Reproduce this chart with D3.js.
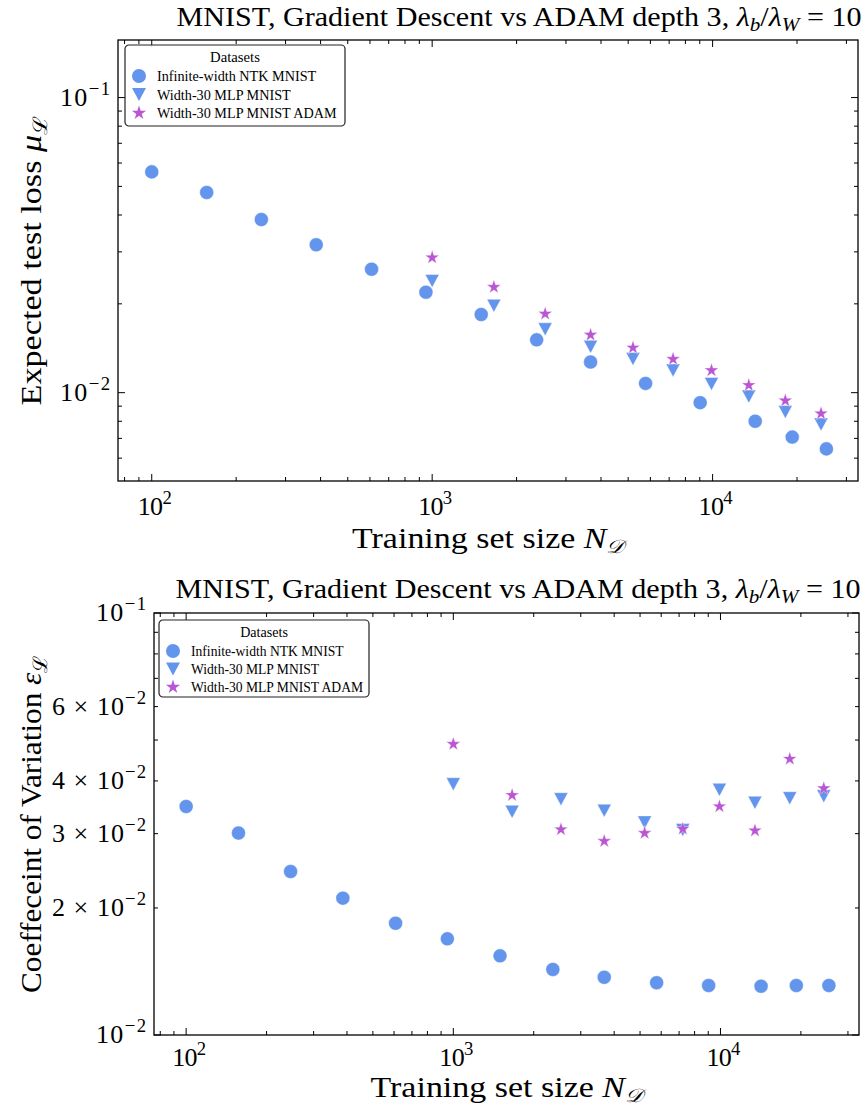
<!DOCTYPE html>
<html>
<head>
<meta charset="utf-8">
<script src="https://cdn.jsdelivr.net/npm/d3@7"></script>
<style>
  body { margin: 0; background: #fff; }
  text { font-family: "Liberation Serif", "DejaVu Serif", serif; fill: #000; }
</style>
</head>
<body>
<svg id="chart" width="867" height="1110"></svg>
<script>
// training set sizes
const nNtk = [100, 157, 246, 386, 608, 950, 1496, 2358, 3672, 5768, 9030, 14190, 19230, 25460];
const nMlp = [1000, 1660, 2529, 3672, 5201, 7228, 9910, 13460, 18170, 24360];

// expected test loss (top panel)
const muNtk = [0.0560, 0.0477, 0.0386, 0.0317, 0.0262, 0.0219, 0.0184, 0.0151, 0.0127, 0.01075, 0.00925, 0.0080, 0.00707, 0.00645];
const muMlp = [0.0239, 0.0197, 0.0164, 0.0143, 0.0130, 0.0119, 0.0107, 0.0097, 0.0086, 0.0078];
const muAdam = [0.0287, 0.0228, 0.0185, 0.0157, 0.0142, 0.0130, 0.0119, 0.0106, 0.0094, 0.0085];

// coefficient of variation (bottom panel)
const cvNtk = [0.0348, 0.0301, 0.0244, 0.0211, 0.0184, 0.0169, 0.0154, 0.0143, 0.0137, 0.0133, 0.0131, 0.01305, 0.0131, 0.0131];
const cvMlp = [0.0393, 0.0338, 0.0362, 0.0340, 0.0319, 0.0306, 0.0381, 0.0355, 0.0364, 0.0368];
const cvAdam = [0.0489, 0.0370, 0.0307, 0.0288, 0.0301, 0.0308, 0.0348, 0.0305, 0.0451, 0.0384];

const seriesNames = ["Infinite-width NTK MNIST", "Width-30 MLP MNIST", "Width-30 MLP MNIST ADAM"];
const xTickLabels = [[10, 2], [10, 3], [10, 4]];
const yTicksTop = [[null, 0.1, -1], [null, 0.01, -2]];
const yTicksBottom = [[null, 0.1, -1], [6, 0.06, -2], [4, 0.04, -2], [3, 0.03, -2], [2, 0.02, -2], [null, 0.01, -2]];

const blue = "#6495ED", purple = "#BA55D3";
const svg = d3.select("#chart");

const tri = (w, h) => `M0,${h / 2}L${-w / 2},${-h / 2}L${w / 2},${-h / 2}Z`;
const circ = d3.symbol(d3.symbolCircle, 154)();
const star = d3.symbol(d3.symbolStar, 62)();
const shapes = [circ, tri(14, 13), star];
const colors = [blue, blue, purple];

// writes "m × 10^e" style labels
function powLabel(g, x, y, mant, exp, anchor, fs, len) {
  const t = g.append("text").attr("x", x).attr("y", y)
    .attr("text-anchor", anchor).style("font-size", fs + "px");
  if (len) t.attr("textLength", len).attr("lengthAdjust", "spacing");
  t.append("tspan").text((mant ? mant + " × " : "") + "10");
  t.append("tspan").attr("dy", -fs * 0.42).style("font-size", (fs * 0.72) + "px")
    .text(exp < 0 ? "−" + (-exp) : exp);
  return t;
}

function minors(lo, hi) {
  const out = [];
  for (let e = Math.floor(Math.log10(lo)); e <= Math.ceil(Math.log10(hi)); e++) {
    for (let m = 1; m < 10; m++) {
      const v = m * Math.pow(10, e);
      if (v >= lo && v <= hi) out.push({ v, major: m === 1 });
    }
  }
  return out;
}

function panel(p) {
  const x = d3.scaleLog().domain([75.8, 33000]).range([p.left, p.right]);
  const y = d3.scaleLog().domain(p.ydom).range([p.bottom, p.top]);
  const g = svg.append("g");

  // ticks, inward on all four sides
  const tk = g.append("g").attr("stroke", "#000").attr("stroke-width", 1);
  minors(...x.domain()).forEach(d => {
    const L = d.major ? 7 : 4, xx = x(d.v);
    tk.append("line").attr("x1", xx).attr("x2", xx).attr("y1", p.bottom).attr("y2", p.bottom - L);
    tk.append("line").attr("x1", xx).attr("x2", xx).attr("y1", p.top).attr("y2", p.top + L);
  });
  minors(...p.ydom).forEach(d => {
    const L = d.major ? 7 : 4, yy = y(d.v);
    tk.append("line").attr("y1", yy).attr("y2", yy).attr("x1", p.left).attr("x2", p.left + L);
    tk.append("line").attr("y1", yy).attr("y2", yy).attr("x1", p.right).attr("x2", p.right - L);
  });

  g.append("rect").attr("x", p.left).attr("y", p.top)
    .attr("width", p.right - p.left).attr("height", p.bottom - p.top)
    .attr("fill", "none").attr("stroke", "#000").attr("stroke-width", 1.3);

  xTickLabels.forEach(([b, e]) => powLabel(g, x(Math.pow(b, e)) + 3, p.bottom + p.xtOff, null, e, "middle", 26, 34));
  p.yticks.forEach(([m, v, e]) => powLabel(g, p.left - 8, y(v) + 8, m, e, "end", 26, m ? 94 : 50));

  // series
  const sets = [[nNtk, p.vals[0]], [nMlp, p.vals[1]], [nMlp, p.vals[2]]];
  sets.forEach(([xs, ys], k) => {
    g.append("g").selectAll("path").data(xs.map((n, i) => [n, ys[i]])).join("path")
      .attr("d", shapes[k]).attr("fill", colors[k])
      .attr("stroke", "#fff").attr("stroke-width", 0.4)
      .attr("transform", d => `translate(${x(d[0])},${y(d[1])})`);
  });

  // title
  const t = g.append("text").attr("x", p.titleX).attr("y", p.titleY)
    .attr("text-anchor", "middle").style("font-size", "27px")
    .attr("textLength", 685).attr("lengthAdjust", "spacingAndGlyphs");
  t.append("tspan").text("MNIST, Gradient Descent vs ADAM depth 3, ");
  t.append("tspan").style("font-style", "italic").text("λ");
  t.append("tspan").attr("dy", 5).style("font-size", "19px").style("font-style", "italic").text("b");
  t.append("tspan").attr("dy", -5).text("/");
  t.append("tspan").style("font-style", "italic").text("λ");
  t.append("tspan").attr("dy", 5).style("font-size", "19px").style("font-style", "italic").text("W");
  t.append("tspan").attr("dy", -5).text(" = 10");

  // x label
  const xl = g.append("text").attr("x", (p.left + p.right) / 2).attr("y", p.bottom + p.xlabOff)
    .attr("text-anchor", "middle").style("font-size", "29px")
    .attr("textLength", 272).attr("lengthAdjust", "spacingAndGlyphs");
  xl.append("tspan").text("Training set size ");
  xl.append("tspan").style("font-style", "italic").text("N");
  xl.append("tspan").attr("dy", 5).style("font-size", "19px").style("font-style", "italic").text("𝒟");

  // y label
  const cy = (p.top + p.bottom) / 2;
  const yl = g.append("text").attr("transform", `translate(${p.ylabX},${cy}) rotate(-90)`)
    .attr("text-anchor", "middle").style("font-size", "30px")
    .attr("textLength", p.ylabLen).attr("lengthAdjust", "spacingAndGlyphs");
  yl.append("tspan").text(p.ylab + " ");
  yl.append("tspan").style("font-style", "italic").text(p.ysym);
  yl.append("tspan").attr("dy", 6).style("font-size", "20px").text("ℒ");

  // legend
  const lg = g.append("g").attr("transform", `translate(${p.leg[0]},${p.leg[1]})`);
  lg.append("rect").attr("width", p.leg[2]).attr("height", p.leg[3]).attr("rx", 4)
    .attr("fill", "#fff").attr("fill-opacity", 0.85).attr("stroke", "#222").attr("stroke-width", 1.2);
  lg.append("text").attr("x", p.leg[2] / 2).attr("y", 17).attr("text-anchor", "middle")
    .style("font-size", (p.lfs + 0.5) + "px").text("Datasets");
  seriesNames.forEach((s, k) => {
    const yy = 31 + k * p.lstep;
    lg.append("path").attr("d", shapes[k]).attr("fill", colors[k])
      .attr("transform", `translate(14,${yy})`);
    lg.append("text").attr("x", p.ltx).attr("y", yy + 5).style("font-size", p.lfs + "px").text(s);
  });
}

panel({
  left: 118, right: 858, top: 40, bottom: 481, ydom: [0.00502, 0.1567],
  yticks: yTicksTop, vals: [muNtk, muMlp, muAdam], xtOff: 34, xlabOff: 67,
  titleX: 519, titleY: 26, ylab: "Expected test loss", ysym: "μ", ylabX: 41, ylabLen: 290,
  leg: [125, 45, 220, 81], lfs: 14.2, lstep: 18.5, ltx: 32
});
panel({
  left: 154, right: 859, top: 613, bottom: 1035, ydom: [0.01, 0.1],
  yticks: yTicksBottom, vals: [cvNtk, cvMlp, cvAdam], xtOff: 31, xlabOff: 62,
  titleX: 518, titleY: 598, ylab: "Coeffeceint of Variation", ysym: "ε", ylabX: 41, ylabLen: 338,
  leg: [159, 620, 210, 77], lfs: 13.6, lstep: 18, ltx: 32
});
</script>
</body>
</html>
